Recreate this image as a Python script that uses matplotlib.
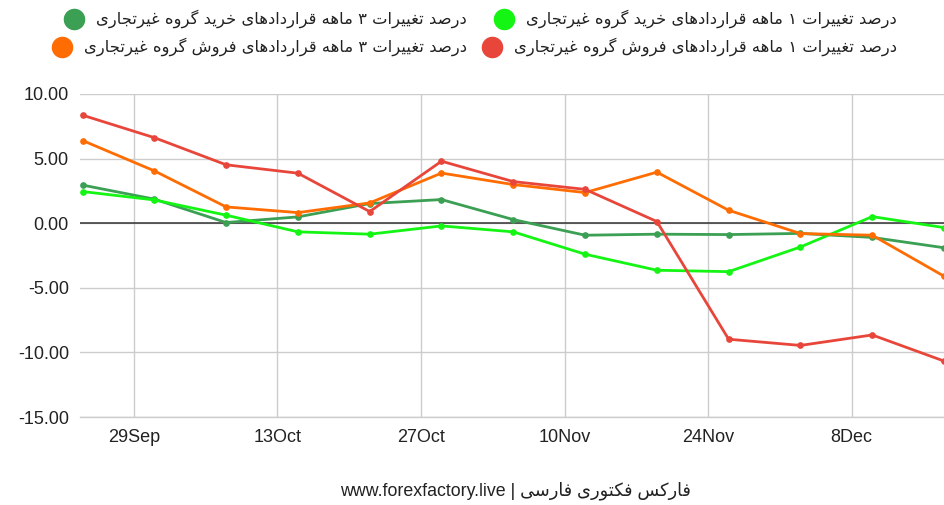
import matplotlib
matplotlib.use("Agg")
import matplotlib.pyplot as plt
import matplotlib.dates as mdates
from matplotlib.lines import Line2D
import numpy as np

# ---- data -------------------------------------------------------------
dates = ["2024-09-24", "2024-10-01", "2024-10-08", "2024-10-15", "2024-10-22",
         "2024-10-29", "2024-11-05", "2024-11-12", "2024-11-19", "2024-11-26",
         "2024-12-03", "2024-12-10", "2024-12-17"]

buy_3m = [2.95, 1.86, 0.05, 0.49, 1.52, 1.83, 0.28, -0.93, -0.85, -0.88, -0.79, -1.10, -1.90]
buy_1m = [2.45, 1.80, 0.62, -0.67, -0.85, -0.21, -0.67, -2.40, -3.64, -3.75, -1.84, 0.51, -0.34]
sell_3m = [6.40, 4.05, 1.26, 0.82, 1.57, 3.88, 2.99, 2.37, 3.95, 1.00, -0.80, -0.93, -4.10]
sell_1m = [8.36, 6.62, 4.52, 3.87, 0.90, 4.80, 3.22, 2.62, 0.13, -8.98, -9.46, -8.65, -10.67]

labels = {
    "buy_3m": "درصد تغییرات ۳ ماهه قراردادهای خرید گروه غیرتجاری",
    "sell_3m": "درصد تغییرات ۳ ماهه قراردادهای فروش گروه غیرتجاری",
    "buy_1m": "درصد تغییرات ۱ ماهه قراردادهای خرید گروه غیرتجاری",
    "sell_1m": "درصد تغییرات ۱ ماهه قراردادهای فروش گروه غیرتجاری",
}
colors = {
    "buy_3m": "#3b9f54",
    "buy_1m": "#14f514",
    "sell_3m": "#ff6d02",
    "sell_1m": "#e8463a",
}

xtick_dates = ["2024-09-29", "2024-10-13", "2024-10-27", "2024-11-10", "2024-11-24", "2024-12-08"]
xtick_labels = ["29Sep", "13Oct", "27Oct", "10Nov", "24Nov", "8Dec"]
yticks = [10, 5, 0, -5, -10, -15]

footer_latin = "www.forexfactory.live | "
footer_fa = "فارکس فکتوری فارسی"

# ---- simple Arabic-script shaping (presentation forms + visual order) --
# (isolated, final, initial, medial); None = letter does not join forward
FORMS = {
    "ا": ("\uFE8D", "\uFE8E", None, None),
    "د": ("\uFEA9", "\uFEAA", None, None),
    "ر": ("\uFEAD", "\uFEAE", None, None),
    "و": ("\uFEED", "\uFEEE", None, None),
    "ت": ("\uFE95", "\uFE96", "\uFE97", "\uFE98"),
    "ج": ("\uFE9D", "\uFE9E", "\uFE9F", "\uFEA0"),
    "خ": ("\uFEA5", "\uFEA6", "\uFEA7", "\uFEA8"),
    "س": ("\uFEB1", "\uFEB2", "\uFEB3", "\uFEB4"),
    "ش": ("\uFEB5", "\uFEB6", "\uFEB7", "\uFEB8"),
    "ص": ("\uFEB9", "\uFEBA", "\uFEBB", "\uFEBC"),
    "غ": ("\uFECD", "\uFECE", "\uFECF", "\uFED0"),
    "ف": ("\uFED1", "\uFED2", "\uFED3", "\uFED4"),
    "ق": ("\uFED5", "\uFED6", "\uFED7", "\uFED8"),
    "م": ("\uFEE1", "\uFEE2", "\uFEE3", "\uFEE4"),
    "ن": ("\uFEE5", "\uFEE6", "\uFEE7", "\uFEE8"),
    "ه": ("\uFEE9", "\uFEEA", "\uFEEB", "\uFEEC"),
    "ی": ("\uFBFC", "\uFBFD", "\uFBFE", "\uFBFF"),
    "ک": ("\uFB8E", "\uFB8F", "\uFB90", "\uFB91"),
    "گ": ("\uFB92", "\uFB93", "\uFB94", "\uFB95"),
}


def shape_rtl(text):
    out = []
    for i, ch in enumerate(text):
        if ch not in FORMS:
            out.append(ch)
            continue
        iso, fin, ini, med = FORMS[ch]
        prev = text[i - 1] if i > 0 else None
        nxt = text[i + 1] if i + 1 < len(text) else None
        join_prev = prev in FORMS and FORMS[prev][2] is not None
        join_next = nxt in FORMS and ini is not None
        if join_prev and join_next:
            out.append(med)
        elif join_prev:
            out.append(fin)
        elif join_next:
            out.append(ini)
        else:
            out.append(iso)
    return "".join(reversed(out))


# ---- figure -----------------------------------------------------------
W, H = 944, 505
fig = plt.figure(figsize=(W / 100, H / 100), dpi=100)
ax = fig.add_axes([80 / W, 1 - 417 / H, (W - 80) / W, (417 - 94) / H])

x = mdates.datestr2num(dates)
latin_font = ["Liberation Sans", "DejaVu Sans"]
fa_font = ["DejaVu Sans"]

for key, vals in [("buy_3m", buy_3m), ("buy_1m", buy_1m),
                  ("sell_3m", sell_3m), ("sell_1m", sell_1m)]:
    ax.plot(x, vals, color=colors[key], lw=2.0, marker="o", ms=3.8,
            solid_capstyle="round", zorder=3, clip_on=True)

ax.axhline(0, color="#333333", lw=1.1, zorder=2)

ax.set_ylim(-15, 10)
ax.set_xlim(x[0] - 0.25, x[-1])
ax.set_yticks(yticks)
ax.set_yticklabels([f"{v:.2f}" for v in yticks])
ax.set_xticks(mdates.datestr2num(xtick_dates))
ax.set_xticklabels(xtick_labels)
ax.grid(True, color="#cccccc", lw=1, zorder=0)
# bottom gridline sits on the axis edge; draw it unclipped so it stays visible
ax.axhline(-15, color="#cccccc", lw=1, zorder=0, clip_on=False)
for s in ax.spines.values():
    s.set_visible(False)
ax.tick_params(length=0, labelsize=13, colors="#222222")
ax.tick_params(axis="y", pad=8)
ax.tick_params(axis="x", pad=9)
for lab in ax.get_xticklabels() + ax.get_yticklabels():
    lab.set_family(latin_font)

# ---- legend (two right-aligned columns, marker left of each entry) -----
entries = [
    ("buy_3m", 467, 19), ("sell_3m", 467, 47),
    ("buy_1m", 897, 19), ("sell_1m", 897, 47),
]
fig.canvas.draw()
renderer = fig.canvas.get_renderer()
for key, xr, yc in entries:
    t = fig.text(xr / W, 1 - yc / H, shape_rtl(labels[key]), ha="right", va="center",
                 fontsize=11.8, family=fa_font, color="#222222")
    bb = t.get_window_extent(renderer)
    cx = bb.x0 - 22
    fig.add_artist(Line2D([cx / W], [1 - yc / H], marker="o", ms=14.5,
                          color=colors[key], ls="none", transform=fig.transFigure))

# ---- footer -------------------------------------------------------------
fig.text(515 / W, 1 - 491 / H, footer_latin + shape_rtl(footer_fa), ha="center",
         va="center", fontsize=12.8, family=["Liberation Sans", "DejaVu Sans"], color="#222222")

fig.savefig("out.png", dpi=100)
